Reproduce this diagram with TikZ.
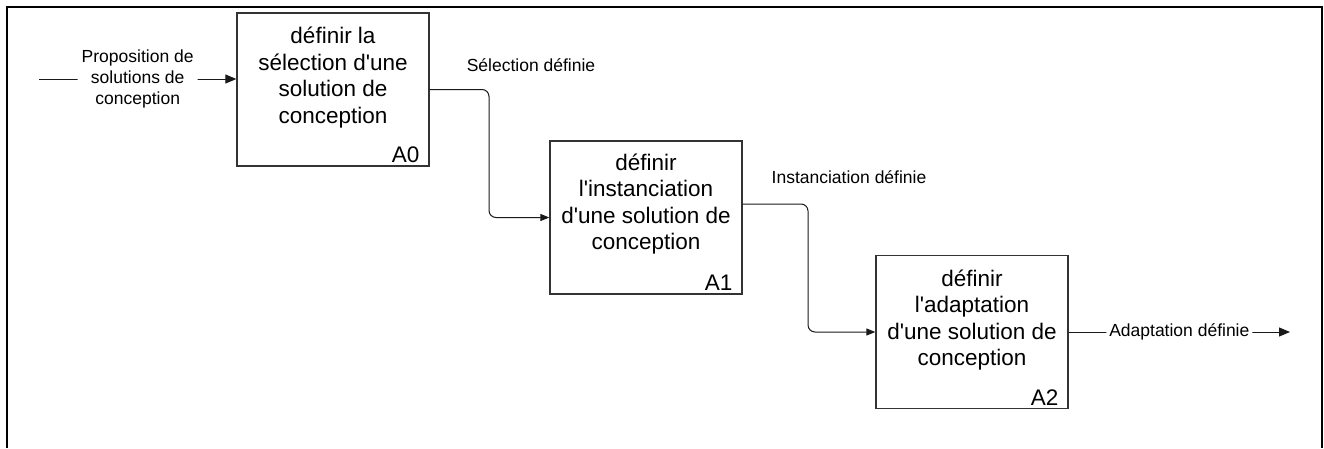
\documentclass[tikz,border=0pt]{standalone}
\usepackage{fontspec}
\setmainfont{Liberation Sans}[Ligatures=TeXOff]
\usetikzlibrary{arrows.meta,calc}
\begin{document}
\begin{tikzpicture}[x=1pt,y=-1pt,
  box/.style={draw=black!80, line width=1.3pt, minimum width=192pt, minimum height=153pt, inner sep=0pt},
  boxtext/.style={align=center, font=\fontsize{22.5}{26.5}\selectfont, inner sep=0pt},
  idlabel/.style={anchor=base east, font=\fontsize{22.5}{26}\selectfont, inner sep=0pt},
  lbl/.style={align=center, font=\fontsize{17.5}{21}\selectfont, inner sep=0pt},
  conn/.style={draw=black!90, line width=1pt, rounded corners=7pt},
  tip/.style={-{Triangle[length=11pt,width=9pt]}},
  tipS/.style={-{Triangle[length=9pt,width=7pt]}},
]
\useasboundingbox (0,0) rectangle (1324,448);
\draw[line width=2.5pt] (7,448) -- (7,7) -- (1322,7) -- (1322,448);

% boxes
\node[box] (A0) at (333,89.5) {};
\node[boxtext] (A0t) at (333,77.5) {définir la\\sélection d'une\\solution de\\conception};
\node[idlabel] (A0id) at ([xshift=-10pt,yshift=4pt]A0.south east) {A0};

\node[box] (A1) at (646,217.5) {};
\node[boxtext] (A1t) at (646,204) {définir\\l'instanciation\\d'une solution de\\conception};
\node[idlabel] (A1id) at ([xshift=-10pt,yshift=4pt]A1.south east) {A1};

\node[box] (A2) at (972,332) {};
\node[boxtext] (A2t) at (972,320) {définir\\l'adaptation\\d'une solution de\\conception};
\node[idlabel] (A2id) at ([xshift=-10pt,yshift=4pt]A2.south east) {A2};

% input
\coordinate (in0) at (39,79);
\draw[conn,tip] (in0) -- node[lbl, fill=white, inner xsep=4pt] (inlbl) {Proposition de\\solutions de\\conception} (A0.west |- in0);

% A0 -> A1
\coordinate (j1) at (489,150);
\draw[conn,tipS] (A0.east) -| (j1) |- (A1.west);
\node[lbl] (sel) at (531,65) {Sélection définie};

% A1 -> A2
\coordinate (o1) at ([yshift=13.5pt]A1.east);
\coordinate (j2) at (808,270);
\draw[conn,tipS] (o1) -| (j2) |- (A2.west);
\node[lbl] (inst) at (849,177) {Instanciation définie};

% output
\coordinate (out2) at (1290,332);
\draw[conn,tip] (A2.east) -- node[lbl, fill=white, inner xsep=3pt] (adapt) {Adaptation définie} (out2);
\end{tikzpicture}
\end{document}
